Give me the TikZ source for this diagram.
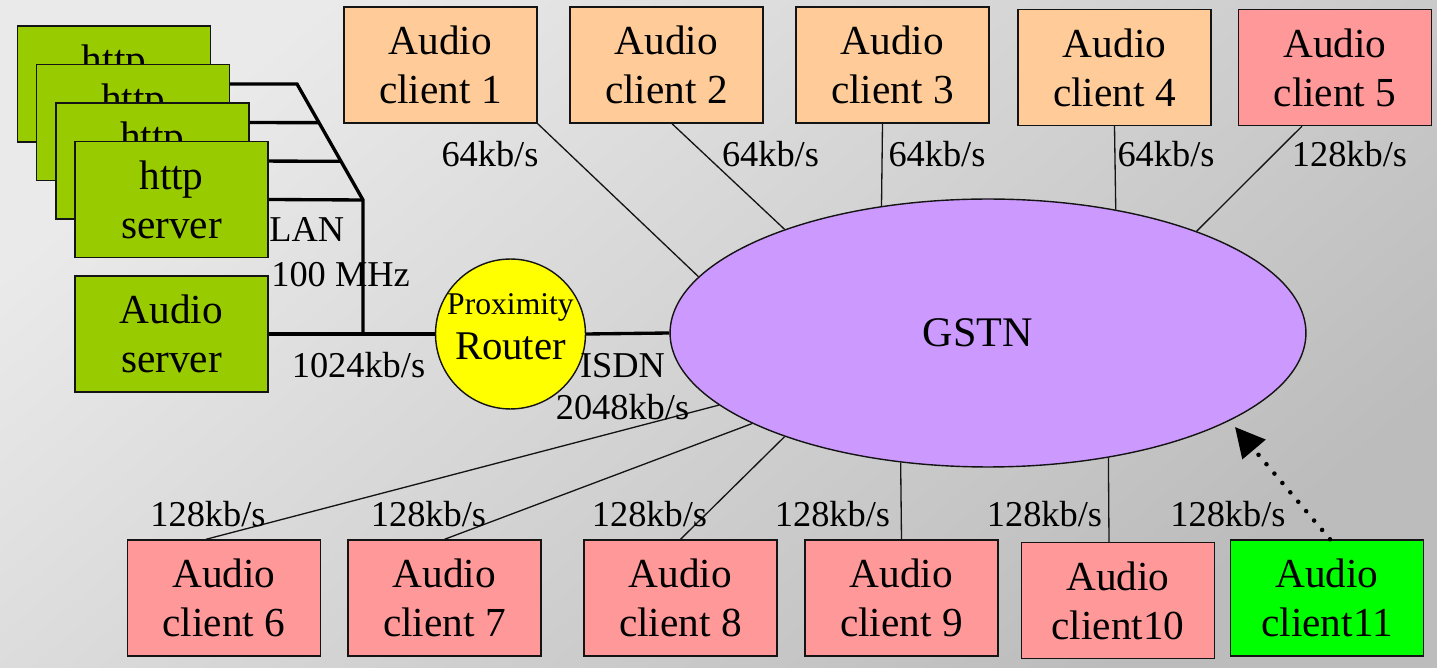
\documentclass[tikz,border=0pt]{standalone}
\usepackage{fontspec}
\setmainfont{Liberation Serif}
\usetikzlibrary{arrows.meta,calc,backgrounds,shapes.geometric}
\definecolor{ink}{RGB}{20,20,20}
\definecolor{peach}{HTML}{FFCC99}
\definecolor{rose}{HTML}{FF9999}
\definecolor{leaf}{HTML}{99CC00}
\definecolor{lime}{HTML}{00FF00}
\definecolor{lemon}{HTML}{FFFF00}
\definecolor{lilac}{HTML}{CC99FF}
\definecolor{bgA}{RGB}{234,234,234}
\definecolor{bgB}{RGB}{188,188,188}
\tikzset{
  box/.style={draw=ink,line width=0.8pt,minimum width=3.86cm,minimum height=2.32cm,inner sep=0pt,
    align=center,font=\fontsize{23.5pt}{27.9pt}\selectfont},
  rate/.style={inner sep=0pt,anchor=base,font=\fontsize{20.7pt}{25pt}\selectfont},
  link/.style={line width=0.75pt,ink},
  lan/.style={line width=1.9pt,black},
  cloud/.style={ellipse,draw=ink,line width=0.8pt,fill=lilac,minimum width=12.72cm,minimum height=5.36cm,
    inner sep=0pt,font=\fontsize{24pt}{28pt}\selectfont},
  hub/.style={circle,draw=ink,line width=0.8pt,fill=lemon,minimum size=2.7cm,inner sep=0pt,align=center,
    text depth=8.5pt,font=\fontsize{23.2pt}{25.6pt}\selectfont},
  mob/.style={-{Triangle[length=0.59cm,width=0.59cm]},line width=2.6pt,line cap=round,
    dash pattern=on 0pt off 7pt},
}
\begin{document}
\begin{tikzpicture}[x=0.02cm,y=-0.02cm]
\useasboundingbox (0,0) rectangle (1437,668);
% servers on the LAN
\foreach \i in {0,...,3}{
  \node[box,fill=leaf] (h\i) at ({114+19.17*\i},{84+38.5*\i}) {http\\server};}
\node[box,fill=leaf] (as) at (171.5,334) {Audio\\server};
\node[hub] (router) at (510.5,334) {{\fontsize{18pt}{20pt}\selectfont Proximity}\\Router};
\node[cloud] (gstn) at (988,333) {GSTN\hspace*{0.4cm}};
% clients
\foreach \i/\x/\y/\col/\txt in {1/440.5/65/peach/client 1,2/666.5/65/peach/client 2,
    3/892.5/65/peach/client 3,4/1114.5/67.5/peach/client 4,5/1335/67.5/rose/client 5,
    6/224/598/rose/client 6,7/444.5/598/rose/client 7,8/680.5/598/rose/client 8,
    9/901.5/598/rose/client 9,10/1118/600.5/rose/client10,11/1327/598/lime/client11}{
  \node[box,fill=\col] (c\i) at (\x,\y) {Audio\\\txt};}
% rates
\foreach \x/\y/\lab [count=\k] in {490/167/{64kb/s},770.5/167/{64kb/s},937/167/{64kb/s},
    1166/167/{64kb/s},1349.5/167/{128kb/s},208/527/{128kb/s},428.5/527/{128kb/s},
    649.5/527/{128kb/s},832.5/527/{128kb/s},1044.5/527/{128kb/s},1228/527/{128kb/s}}{
  \node[rate] (r\k) at (\x,\y) {\lab};}
\node[rate,anchor=base west] (lanlbl) at (269,242) {LAN};
\node[rate,anchor=base west] (mhz) at (271,287) {100 MHz};
\node[rate] (rserver) at (358.5,378) {1024kb/s};
\node[rate] (isdn) at (622.5,378) {ISDN};
\node[rate] (risdn) at (622.5,420) {2048kb/s};
\begin{scope}[on background layer]
\fill[top color=bgA,bottom color=bgB,shading angle=40] (0,0) rectangle (1437,668);
\coordinate (lanT) at (297,84);
\coordinate (lanB) at (363,200);
\draw[lan] (h0.east) -- (lanT) -- (lanB) -- (lanB |- as.east);
\draw[lan] (h1.east) -- ($(lanT)!1/3!(lanB)$);
\draw[lan] (h2.east) -- ($(lanT)!2/3!(lanB)$);
\draw[lan] (h3.east) -- (lanB);
\draw[lan] (as.east) -- (router.west);
\draw[lan] (router.east) -- (gstn.west);
\draw[link] (c1.south east) -- (gstn.169.7);
\draw[link] ($(c2.south)+(5.5,0)$) -- (gstn.153.9);
\draw[link] ($(c3.south)+(-10,0)$) -- (gstn.130);
\draw[link] (c4.south) -- (gstn.44.2);
\draw[link] ($(c5.south)+(-33,0)$) -- (gstn.26.1);
\draw[link] ($(c6.north)+(-18,0)$) -- (gstn.195.1);
\draw[link] (c7.north) -- (gstn.201.6);
\draw[link] (c8.north) -- (gstn.207.3);
\draw[link] (c9.north) -- (gstn.236.1);
\draw[link] ($(c10.north)+(-9,0)$) -- (gstn.314.3);
\end{scope}
\coordinate (tip) at (1235,427);
\draw[mob] ($(c11.north)+(3,0)$) -- (tip);
\end{tikzpicture}
\end{document}
